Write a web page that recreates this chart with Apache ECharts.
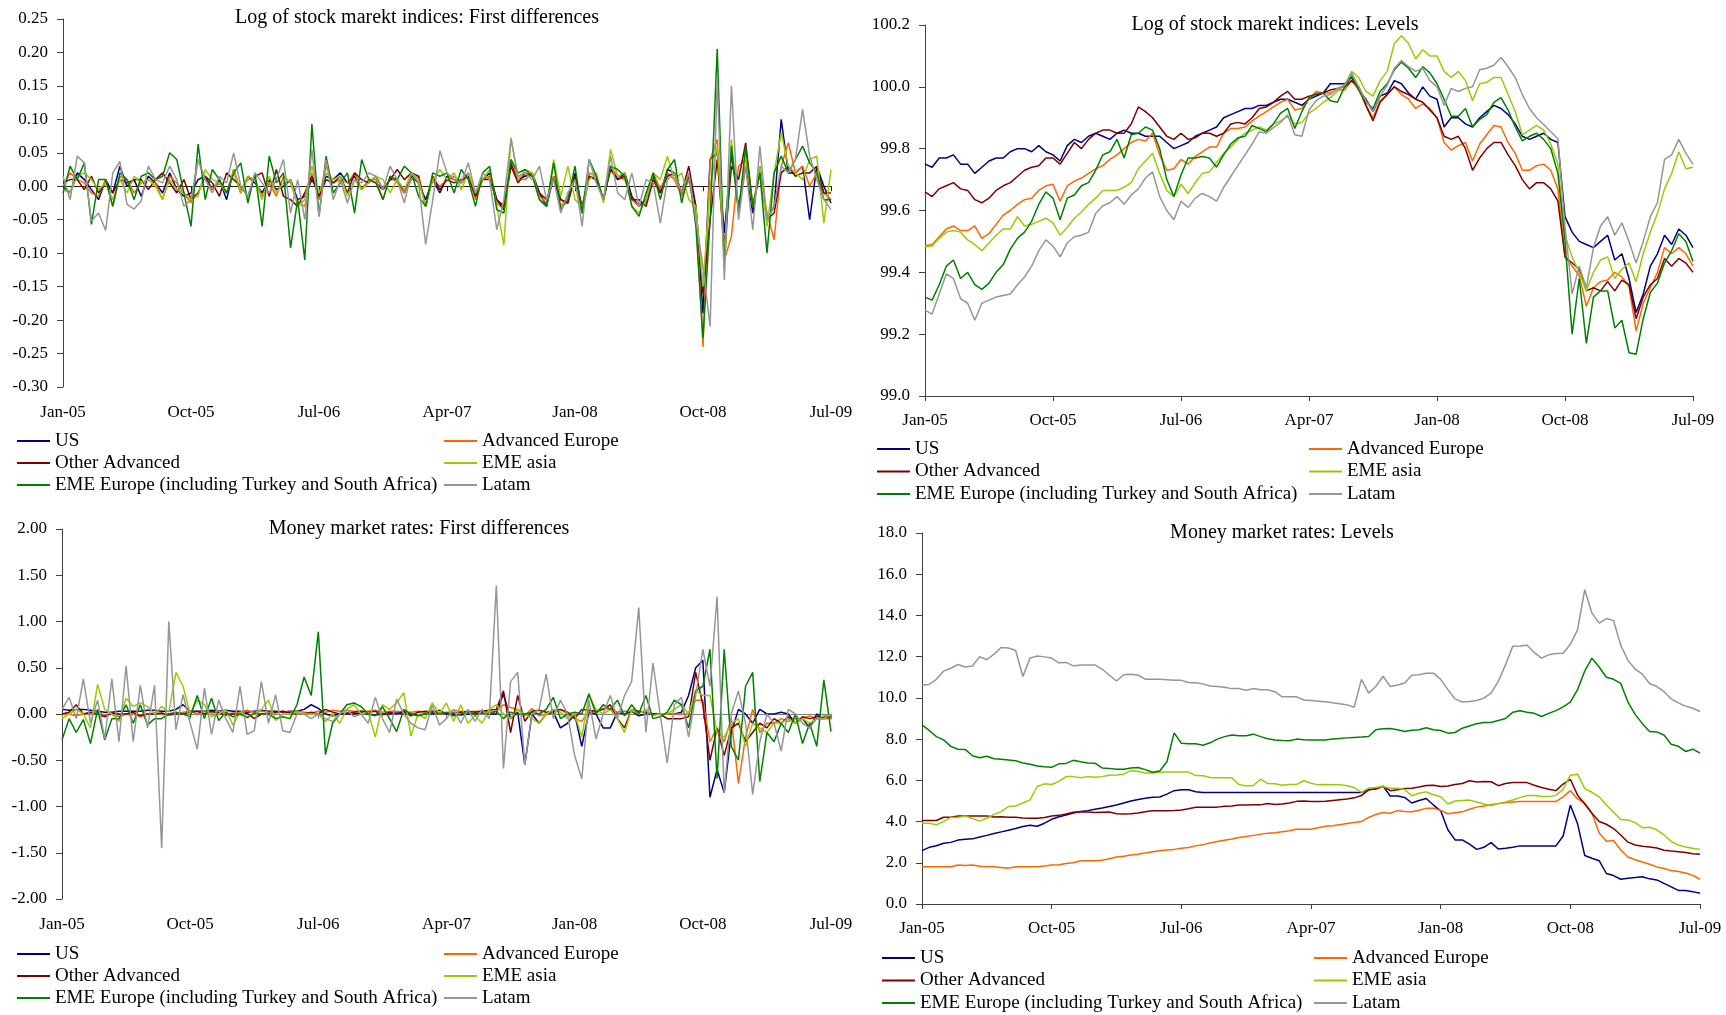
<!DOCTYPE html>
<html>
<head>
<meta charset="utf-8">
<title>Stock market indices and money market rates</title>
<script src="https://cdn.jsdelivr.net/npm/echarts@6/dist/echarts.min.js"></script>
<style>
  html, body { margin: 0; padding: 0; background: #fff; }
  #chart { width: 1726px; height: 1015px; }
</style>
</head>
<body>
<div id="chart"></div>
<script>
// one sample every half month, Jan-05 .. Jul-09 (109 points)
const STEP = 0.5;
const dateTickLabels = ['Jan-05', 'Oct-05', 'Jul-06', 'Apr-07', 'Jan-08', 'Oct-08', 'Jul-09'];
const seriesNames = ['US', 'Advanced Europe', 'Other Advanced', 'EME asia',
  'EME Europe (including Turkey and South Africa)', 'Latam'];
const seriesColors = ['#000080', '#FF6600', '#800000', '#99CC00', '#008000', '#969696'];

// ---- Log of stock market indices: first differences
const stockDiffUS = [
  0.00, -0.01, 0.02, 0.01, -0.005, -0.02, 0.01, -0.01, 0.03, 0.00, 0.01, -0.015, 0.015, 0.005, -0.01, 0.02, -0.005, -0.015,
  -0.01, 0.01, 0.015, -0.005, 0.01, -0.02, 0.025, -0.01, 0.015, 0.005, -0.01, 0.01, -0.005, 0.00, 0.01, -0.02, -0.015, 0.01,
  -0.01, 0.015, 0.01, 0.02, 0.005, 0.015, -0.005, 0.01, 0.005, -0.005, 0.01, 0.01, -0.01, 0.015, 0.005, -0.02, 0.01, -0.01,
  0.015, 0.01, 0.005, 0.02, -0.015, 0.01, 0.02, -0.02, -0.03, 0.035, 0.01, 0.015, 0.02, -0.01, -0.03, 0.015, -0.02, -0.025,
  0.02, -0.04, 0.015, 0.01, -0.02, 0.03, 0.01, 0.02, -0.015, -0.03, -0.02, 0.015, -0.01, 0.025, 0.02, -0.01,
  0.015, -0.03, -0.19, 0.04, 0.05, -0.07, 0.05, -0.03, 0.03, -0.04, 0.03, -0.05, -0.03, 0.1, 0.02, 0.02, 0.03, -0.05, 0.03, 0.0, -0.025
];
const stockDiffAdvEurope = [
  0.00, 0.02, 0.01, 0.005, -0.01, -0.015, 0.01, -0.03, 0.015, 0.01, -0.01, 0.005, 0.01, 0.005, -0.02, 0.015, 0.005, -0.01,
  -0.025, 0.04, 0.01, -0.005, 0.005, -0.01, 0.02, -0.005, 0.01, 0.01, -0.015, 0.005, -0.015, 0.015, 0.005, -0.025, -0.03, 0.02,
  -0.02, 0.03, 0.005, 0.01, 0.005, 0.02, -0.005, 0.01, 0.01, -0.02, 0.015, 0.005, -0.01, 0.01, 0.015, -0.03, 0.01, 0.0,
  0.01, 0.015, 0.005, 0.015, -0.02, 0.01, 0.015, -0.025, -0.035, 0.04, 0.01, 0.01, 0.02, -0.015, -0.025, 0.015, -0.03, -0.015,
  0.01, -0.04, 0.02, 0.015, -0.02, 0.03, 0.015, 0.01, -0.02, -0.03, -0.025, 0.02, -0.005, 0.02, 0.01, -0.015,
  0.01, -0.04, -0.24, 0.04, 0.07, -0.11, -0.075, 0.03, 0.04, -0.03, 0.02, -0.04, -0.08, 0.03, 0.065, 0.02, 0.03, 0.0, 0.02, -0.01, -0.02
];
const stockDiffOtherAdv = [
  0.005, 0.01, 0.01, -0.005, 0.015, -0.01, 0.005, -0.01, 0.01, 0.005, 0.01, 0.01, -0.005, 0.01, 0.02, 0.005, -0.01, 0.01,
  -0.02, -0.01, 0.015, 0.005, -0.015, 0.02, 0.01, 0.0, -0.015, 0.015, 0.02, -0.015, 0.025, -0.015, -0.02, -0.03, -0.01, 0.015,
  -0.015, 0.01, 0.005, 0.015, -0.01, 0.02, 0.01, 0.005, 0.015, -0.005, 0.01, 0.025, 0.01, 0.02, 0.015, -0.03, 0.015, -0.005,
  0.01, 0.005, 0.01, 0.015, -0.015, 0.01, 0.01, -0.02, -0.035, 0.03, 0.005, 0.02, 0.015, -0.01, -0.02, 0.01, -0.02, -0.025,
  0.015, -0.03, 0.015, 0.01, -0.02, 0.025, 0.01, 0.015, -0.02, -0.02, -0.03, 0.01, -0.01, 0.015, 0.02, -0.01,
  0.03, -0.03, -0.16, -0.05, 0.04, -0.09, 0.03, 0.01, 0.065, -0.03, 0.02, -0.05, -0.04, 0.02, 0.03, 0.015, 0.02, 0.02, 0.03, -0.01, -0.01
];
const stockDiffEmeAsia = [
  -0.005, -0.01, 0.015, 0.02, 0.01, -0.005, 0.005, -0.02, 0.01, -0.01, 0.015, 0.005, 0.01, 0.0, -0.02, 0.01, -0.005, -0.01,
  -0.02, -0.015, 0.025, 0.01, 0.005, -0.01, 0.025, -0.01, 0.015, 0.01, -0.02, 0.015, -0.01, 0.005, 0.01, -0.03, -0.02, 0.03,
  -0.01, 0.02, 0.01, 0.015, -0.015, 0.01, -0.005, 0.005, 0.015, 0.01, -0.01, 0.01, -0.005, 0.02, 0.01, -0.03, 0.01, 0.025,
  0.01, 0.02, -0.005, 0.02, -0.01, 0.01, 0.025, -0.03, -0.088, 0.073, 0.01, 0.025, 0.02, -0.02, -0.03, 0.04, -0.015, 0.03,
  -0.02, -0.03, 0.01, 0.02, -0.025, 0.055, 0.015, 0.02, -0.03, -0.04, -0.02, 0.02, 0.01, 0.045, 0.01, 0.02,
  -0.02, -0.03, -0.15, 0.0, 0.06, -0.1, 0.07, -0.04, 0.05, -0.03, 0.03, -0.06, 0.02, 0.08, 0.03, 0.02, 0.01, 0.04, 0.045, -0.055, 0.025
];
const stockDiffEmeEurope = [
  -0.01, 0.03, 0.01, 0.035, -0.057, 0.01, 0.01, -0.03, 0.02, 0.01, -0.02, 0.015, 0.02, 0.01, 0.015, 0.05, 0.04, -0.01,
  -0.06, 0.063, -0.02, 0.025, 0.01, -0.01, 0.02, 0.035, -0.025, 0.02, -0.06, 0.045, 0.005, 0.02, -0.092, -0.02, -0.11, 0.093,
  -0.045, 0.045, -0.01, 0.005, 0.02, -0.04, 0.04, 0.01, 0.005, -0.02, 0.015, 0.01, 0.03, 0.02, -0.015, -0.03, 0.02, 0.015,
  0.02, -0.01, 0.025, 0.01, -0.03, 0.02, 0.03, -0.035, -0.04, 0.04, 0.02, 0.025, 0.015, -0.02, -0.03, 0.035, -0.035, -0.02,
  0.03, -0.04, 0.04, 0.015, -0.02, 0.03, 0.025, 0.015, -0.03, -0.045, -0.01, 0.02, -0.02, 0.025, 0.04, -0.025,
  0.02, -0.06, -0.227, -0.05, 0.205, -0.12, 0.06, -0.04, 0.06, -0.03, 0.02, -0.1, 0.02, 0.045, 0.02, 0.04, 0.06, 0.035, 0.02, -0.02, -0.02
];
const stockDiffLatam = [
  0.015, -0.02, 0.045, 0.035, -0.052, -0.04, -0.066, 0.02, 0.037, -0.027, -0.034, -0.022, 0.03, 0.01, 0.005, 0.03, 0.01, -0.03,
  -0.02, 0.04, 0.01, -0.01, 0.015, 0.005, 0.05, 0.0, -0.015, 0.02, 0.005, -0.01, 0.01, 0.04, -0.04, 0.01, -0.05, 0.055,
  -0.045, 0.04, -0.02, 0.01, -0.025, 0.01, 0.005, 0.02, 0.015, -0.005, 0.03, 0.01, -0.025, 0.02, 0.005, -0.087, -0.02, 0.053,
  0.02, 0.01, 0.005, 0.035, -0.01, 0.02, 0.01, -0.065, -0.02, 0.07, 0.015, 0.02, 0.01, 0.03, -0.02, 0.01, -0.04, -0.01,
  0.01, -0.06, 0.04, 0.005, -0.02, 0.045, -0.01, -0.02, 0.02, -0.03, 0.01, 0.005, -0.055, 0.01, 0.02, -0.01,
  0.02, -0.05, -0.12, -0.21, 0.16, -0.14, 0.15, -0.05, 0.03, -0.065, 0.06, -0.05, -0.03, 0.03, 0.02, 0.04, 0.115, 0.045, 0.01, -0.02, -0.035
];

// ---- Log of stock market indices: levels
const stockLevelUS = [
  99.75, 99.74, 99.77, 99.77, 99.78, 99.75, 99.75, 99.72, 99.74, 99.76,
  99.77, 99.77, 99.79, 99.80, 99.80, 99.79, 99.81, 99.79, 99.78, 99.76,
  99.81, 99.83, 99.82, 99.84, 99.85, 99.84, 99.83, 99.85, 99.86, 99.85,
  99.85, 99.84, 99.84, 99.84, 99.82, 99.80, 99.81, 99.82, 99.84, 99.85,
  99.86, 99.87, 99.90, 99.91, 99.92, 99.93, 99.93, 99.94, 99.94, 99.95,
  99.96, 99.96, 99.95, 99.94, 99.96, 99.97, 99.98, 100.01, 100.01, 100.01,
  100.03, 99.99, 99.96, 99.92, 99.97, 99.98, 100.02, 100.01, 99.98, 99.96,
  100.00, 99.97, 99.96, 99.87, 99.90, 99.90, 99.88, 99.87, 99.90, 99.92,
  99.94, 99.93, 99.91, 99.88, 99.84, 99.83, 99.84, 99.85, 99.83, 99.82,
  99.58, 99.53, 99.50, 99.49, 99.48, 99.50, 99.52, 99.44, 99.46, 99.38,
  99.27, 99.33, 99.42, 99.46, 99.52, 99.49, 99.54, 99.52, 99.48
];
const stockLevelAdvEurope = [
  99.486, 99.49, 99.515, 99.54, 99.55, 99.535, 99.535, 99.55, 99.51, 99.525,
  99.555, 99.585, 99.60, 99.62, 99.635, 99.64, 99.665, 99.68, 99.685, 99.63,
  99.68, 99.695, 99.705, 99.72, 99.735, 99.745, 99.765, 99.78, 99.80, 99.82,
  99.83, 99.825, 99.85, 99.78, 99.73, 99.735, 99.765, 99.75, 99.775, 99.79,
  99.805, 99.805, 99.85, 99.865, 99.865, 99.87, 99.89, 99.905, 99.92, 99.935,
  99.95, 99.96, 99.925, 99.93, 99.96, 99.985, 99.98, 99.98, 99.99, 99.99,
  100.02, 99.99, 99.94, 99.90, 99.955, 99.975, 100.0, 99.975, 99.96, 99.93,
  99.945, 99.93, 99.90, 99.82, 99.795, 99.81, 99.82, 99.76, 99.815, 99.845,
  99.875, 99.87, 99.82, 99.785, 99.73, 99.73, 99.745, 99.75, 99.73, 99.67,
  99.45, 99.42, 99.39, 99.29, 99.35, 99.37, 99.375, 99.40, 99.385, 99.355,
  99.21, 99.30, 99.35, 99.40, 99.48, 99.46, 99.48, 99.46, 99.42
];
const stockLevelOtherAdv = [
  99.66, 99.645, 99.67, 99.68, 99.69, 99.67, 99.665, 99.635, 99.625, 99.64,
  99.665, 99.68, 99.69, 99.71, 99.73, 99.74, 99.745, 99.77, 99.77, 99.75,
  99.785, 99.82, 99.80, 99.83, 99.85, 99.86, 99.86, 99.85, 99.85, 99.88,
  99.935, 99.92, 99.90, 99.87, 99.84, 99.83, 99.85, 99.83, 99.835, 99.85,
  99.85, 99.84, 99.85, 99.88, 99.885, 99.88, 99.90, 99.93, 99.935, 99.95,
  99.97, 99.985, 99.96, 99.96, 99.97, 99.975, 99.98, 99.99, 99.995, 100.0,
  100.02, 100.0, 99.94, 99.89, 99.95, 99.975, 100.0, 99.985, 99.975, 99.96,
  99.95, 99.925, 99.90, 99.84, 99.83, 99.84, 99.80, 99.73, 99.77, 99.80,
  99.82, 99.82, 99.78, 99.745, 99.70, 99.67, 99.69, 99.69, 99.67, 99.63,
  99.45, 99.43, 99.41, 99.34, 99.35, 99.34, 99.37, 99.34, 99.375, 99.36,
  99.25, 99.32, 99.36, 99.38, 99.445, 99.42, 99.445, 99.43, 99.40
];
const stockLevelEmeAsia = [
  99.483, 99.485, 99.51, 99.53, 99.535, 99.53, 99.505, 99.49, 99.47, 99.495,
  99.52, 99.54, 99.54, 99.58, 99.55, 99.555, 99.565, 99.575, 99.56, 99.52,
  99.545, 99.575, 99.595, 99.62, 99.64, 99.665, 99.665, 99.665, 99.675, 99.69,
  99.735, 99.76, 99.785, 99.72, 99.665, 99.645, 99.685, 99.655, 99.69, 99.72,
  99.725, 99.755, 99.785, 99.805, 99.83, 99.85, 99.86, 99.87, 99.86, 99.88,
  99.89, 99.905, 99.88, 99.885, 99.915, 99.93, 99.95, 99.965, 99.985, 100.005,
  100.05, 100.03, 99.985, 99.97, 100.02, 100.05, 100.14, 100.165, 100.14, 100.09,
  100.12, 100.10, 100.10, 100.05, 100.03, 100.05, 100.02, 99.955, 100.01, 100.015,
  100.03, 100.03, 99.975, 99.92, 99.845, 99.86, 99.875, 99.86, 99.815, 99.75,
  99.52, 99.45, 99.40, 99.34, 99.40, 99.44, 99.45, 99.38, 99.41, 99.43,
  99.37, 99.46, 99.53, 99.59, 99.67, 99.72, 99.79, 99.735, 99.74
];
const stockLevelEmeEurope = [
  99.32, 99.31, 99.36, 99.42, 99.44, 99.38, 99.40, 99.36, 99.345, 99.365,
  99.40, 99.425, 99.475, 99.51, 99.53, 99.565, 99.62, 99.66, 99.64, 99.57,
  99.64, 99.65, 99.68, 99.69, 99.73, 99.78, 99.79, 99.83, 99.77, 99.845,
  99.85, 99.87, 99.86, 99.80, 99.70, 99.645, 99.715, 99.77, 99.77, 99.775,
  99.77, 99.74, 99.78, 99.815, 99.835, 99.84, 99.875, 99.865, 99.855, 99.88,
  99.915, 99.93, 99.865, 99.92, 99.965, 99.978, 99.98, 99.955, 99.95, 100.0,
  100.035, 99.99, 99.95, 99.93, 99.985, 100.01, 100.055, 100.08, 100.06, 100.03,
  100.065, 100.045, 100.01, 99.96, 99.905, 99.905, 99.93, 99.87, 99.895, 99.91,
  99.95, 99.965, 99.925, 99.87, 99.825, 99.84, 99.85, 99.83, 99.80, 99.72,
  99.50, 99.20, 99.38, 99.17, 99.32, 99.34, 99.34, 99.22, 99.245, 99.14,
  99.135, 99.25, 99.335, 99.365, 99.43, 99.47, 99.525, 99.50, 99.435
];
const stockLevelLatam = [
  99.278, 99.265, 99.33, 99.395, 99.38, 99.315, 99.30, 99.245, 99.30, 99.31,
  99.32, 99.325, 99.33, 99.36, 99.385, 99.42, 99.47, 99.505, 99.485, 99.45,
  99.495, 99.515, 99.52, 99.53, 99.59, 99.615, 99.625, 99.645, 99.62, 99.65,
  99.67, 99.705, 99.725, 99.645, 99.60, 99.57, 99.63, 99.61, 99.64, 99.655,
  99.645, 99.63, 99.675, 99.71, 99.745, 99.78, 99.815, 99.855, 99.85, 99.868,
  99.885, 99.91, 99.845, 99.84, 99.925, 99.955, 99.97, 99.975, 99.995, 100.005,
  100.045, 100.0, 99.955, 99.92, 99.97, 100.005, 100.06, 100.085, 100.065, 100.05,
  100.06, 100.02, 100.0, 99.94, 99.995, 99.985, 99.995, 100.0, 100.055, 100.06,
  100.07, 100.095, 100.065, 100.03, 99.975, 99.93, 99.90, 99.878, 99.855, 99.832,
  99.55, 99.33, 99.42, 99.35, 99.48, 99.55, 99.58, 99.52, 99.56, 99.50,
  99.43, 99.50, 99.58, 99.625, 99.765, 99.78, 99.83, 99.785, 99.75
];

// ---- Money market rates: first differences
const rateDiffUS = [
  0.05, 0.04, 0.05, 0.05, 0.04, 0.03, 0.02, 0.02, 0.03, 0.03, 0.03,
  0.03, 0.04, 0.04, 0.03, 0.03, 0.05, 0.1, 0.03, 0.03, 0.03,
  0.04, 0.03, 0.04, 0.03, 0.03, 0.02, 0.03, 0.04, 0.03, 0.03,
  0.02, 0.03, 0.03, 0.05, 0.1, 0.06, 0.0, -0.02, 0.0, 0.0,
  0.0, 0.01, 0.0, -0.01, 0.0, 0.0, 0.01, 0.0, 0.0, -0.01,
  0.0, 0.0, 0.01, 0.0, 0.0, -0.01, 0.0, 0.0, 0.01, 0.0,
  0.0, 0.22, -0.05, 0.02, -0.55, 0.0, -0.1, 0.0, 0.02, -0.15,
  -0.1, 0.0, -0.35, 0.02, 0.0, -0.15, -0.15, 0.02, 0.0, 0.03,
  -0.02, 0.0, 0.0, 0.0, 0.0, 0.0, 0.02, 0.2, 0.5, 0.58,
  -0.9, -0.6, -0.85, -0.2, 0.05, 0.0, -0.1, 0.05, 0.0, 0.0,
  0.02, 0.0, -0.1, -0.05, -0.15, 0.0, -0.05, -0.02
];
const rateDiffAdvEurope = [
  0.0, 0.0, -0.02, 0.0, 0.01, 0.03, -0.02, 0.01, -0.03, 0.0, 0.0, -0.03, 0.0, 0.01, 0.0, 0.0, 0.0, 0.02, 0.03, 0.0, 0.03,
  0.01, 0.03, 0.0, 0.01, 0.02, 0.04, 0.02, 0.03, 0.02, 0.01, 0.03, 0.02, 0.03, 0.02, 0.01, 0.03, 0.02, 0.04, 0.03, 0.04,
  0.03, 0.03, 0.03, 0.04, 0.02, 0.03, 0.03, 0.02, 0.02, 0.03, 0.02, 0.04, 0.0, 0.01, 0.04, 0.03, 0.02, 0.03, 0.03, 0.02,
  0.03, 0.1, 0.07, 0.05, -0.02, 0.06, -0.02, 0.0, 0.04, 0.05, 0.0, -0.05, -0.08, 0.03, 0.02, 0.06, 0.05, 0.02, 0.03, 0.03,
  0.02, 0.02, 0.0, 0.0, 0.0, 0.0, 0.0, 0.0, 0.15, 0.15, -0.3, -0.15, -0.3, -0.05, -0.75, -0.25, 0.05, -0.2, -0.1, -0.1,
  -0.05, -0.08, -0.05, -0.05, -0.02, -0.05, -0.05, -0.05
];
const rateDiffOtherAdv = [
  0.0, 0.02, 0.1, 0.0, 0.02, 0.0, -0.03, 0.01, 0.0, 0.0, 0.02, -0.02, 0.0, 0.0, 0.01, -0.01, 0.0, 0.0, 0.02, 0.03, 0.0,
  0.03, 0.01, -0.01, 0.0, 0.0, 0.01, -0.05, 0.0, 0.0, 0.02, 0.03, 0.01, 0.0, 0.0, 0.02, 0.0, 0.05, 0.02, 0.0, 0.01,
  0.02, 0.03, 0.02, 0.03, -0.01, 0.02, 0.0, 0.03, -0.02, 0.02, 0.03, 0.02, 0.04, 0.0, 0.01, 0.02, 0.03, 0.02, 0.03, 0.04,
  0.05, 0.25, -0.2, 0.2, -0.08, 0.03, 0.04, 0.02, 0.03, 0.05, 0.02, -0.05, 0.05, 0.04, 0.03, 0.05, 0.1, -0.05, -0.15, 0.05,
  0.03, 0.02, 0.0, 0.0, -0.05, -0.05, -0.05, -0.03, 0.45, 0.1, -0.5, -0.15, -0.45, -0.15, -0.1, -0.3, -0.2, -0.1, -0.15, -0.05,
  -0.1, -0.03, -0.1, -0.03, -0.05, -0.03, -0.03, -0.03
];
const rateDiffEmeAsia = [
  -0.05, 0.0, 0.05, 0.0, -0.15, 0.32, 0.05, 0.0, -0.08, 0.17,
  0.08, 0.12, 0.08, 0.0, 0.08, 0.02, 0.45, 0.3, 0.0, 0.15,
  0.1, -0.03, 0.0, 0.05, -0.12, 0.02, -0.03, 0.0, 0.05, 0.15,
  -0.07, 0.0, 0.0, 0.02, 0.0, 0.0, 0.0, -0.08, 0.0, -0.1,
  0.05, 0.1, 0.0, 0.02, -0.25, 0.1, 0.05, 0.12, 0.23, -0.24,
  0.0, -0.05, 0.12, 0.0, 0.12, -0.08, 0.1, -0.1, -0.02, -0.1,
  0.05, 0.1, 0.0, -0.05, 0.05, 0.0, -0.05, -0.1, 0.0, 0.05,
  0.02, -0.05, 0.0, -0.25, 0.2, 0.05, 0.0, 0.05, -0.05, -0.2,
  0.05, 0.0, 0.05, -0.02, 0.0, 0.0, 0.05, 0.1, 0.0, 0.25,
  0.2, 0.2, -0.2, -0.25, -0.1, -0.05, -0.35, -0.1, -0.15, -0.2,
  -0.1, -0.1, -0.05, -0.1, -0.05, -0.1, -0.05, -0.02, -0.02
];
const rateDiffEmeEurope = [
  -0.28, -0.05, -0.2, -0.06, -0.32, 0.05, -0.28, -0.05, -0.05, 0.1,
  -0.1, 0.1, -0.12, -0.05, -0.05, 0.0, 0.02, 0.0, -0.03, 0.2,
  -0.05, 0.17, -0.07, 0.02, -0.03, 0.0, -0.04, 0.01, 0.0, 0.0,
  -0.05, -0.03, -0.05, 0.1, 0.4, 0.2, 0.89, -0.44, -0.1, 0.0,
  0.1, 0.12, 0.08, 0.0, -0.02, 0.08, -0.05, -0.19, 0.05, 0.0,
  -0.02, 0.0, 0.03, 0.0, 0.02, -0.02, 0.0, 0.02, -0.01, 0.01,
  0.0, 0.03, -0.05, 0.02, 0.0, 0.0, 0.02, 0.0, 0.05, 0.18,
  -0.05, 0.0, 0.02, 0.0, 0.22, 0.0, 0.1, 0.05, 0.15, -0.02,
  0.1, 0.0, 0.2, -0.05, -0.03, 0.02, 0.15, 0.1, -0.15, 0.25,
  0.3, 0.7, -0.7, 0.7, -0.35, -0.5, 0.3, 0.45, -0.73, -0.2,
  -0.3, -0.1, -0.2, 0.0, -0.32, -0.1, -0.35, 0.37, -0.19
];
const rateDiffLatam = [
  0.05, 0.18, -0.05, 0.38, -0.1, 0.15, -0.27, 0.38, -0.3, 0.52,
  -0.3, 0.31, -0.15, 0.31, -1.45, 1.0, -0.17, 0.21, -0.1, -0.38,
  0.28, -0.22, 0.15, -0.05, -0.2, 0.3, -0.22, -0.18, 0.35, -0.1,
  0.21, -0.18, -0.2, 0.0, 0.0, -0.05, 0.0, -0.05, -0.08, 0.0,
  0.05, -0.03, 0.0, -0.1, 0.18, -0.05, -0.2, 0.16, 0.0, -0.1,
  -0.15, -0.17, 0.1, -0.12, -0.05, 0.05, -0.1, 0.05, -0.08, 0.05,
  -0.05, 1.39, -0.59, 0.35, 0.45, -0.55, 0.0, 0.05, 0.43, -0.05,
  0.15, 0.0, -0.45, -0.7, 0.15, -0.27, 0.0, 0.2, -0.05, 0.2,
  0.35, 1.15, -0.2, 0.55, 0.0, -0.53, 0.1, 0.18, -0.25, 0.2,
  0.7, 0.3, 1.27, -0.85, 0.0, 0.25, -0.1, -0.87, -0.3, 0.0,
  -0.1, -0.4, 0.05, 0.0, -0.1, -0.15, -0.05, -0.05, 0.0
];

// ---- Money market rates: levels
const rateLevelUS = [
  2.59, 2.75, 2.83, 2.95, 2.99, 3.10, 3.14, 3.16, 3.25, 3.33,
  3.42, 3.50, 3.58, 3.66, 3.76, 3.82, 3.77, 3.92, 4.11, 4.23,
  4.32, 4.41, 4.49, 4.53, 4.60, 4.66, 4.73, 4.80, 4.90, 5.00,
  5.07, 5.13, 5.18, 5.19, 5.33, 5.50, 5.54, 5.54, 5.45, 5.41,
  5.41, 5.41, 5.41, 5.41, 5.41, 5.41, 5.41, 5.41, 5.41, 5.41,
  5.41, 5.41, 5.41, 5.41, 5.41, 5.41, 5.41, 5.41, 5.41, 5.41,
  5.41, 5.41, 5.54, 5.60, 5.72, 5.24, 5.24, 5.17, 4.90, 5.02,
  5.12, 4.80, 4.52, 3.60, 3.11, 3.11, 2.90, 2.65, 2.75, 2.98,
  2.67, 2.70, 2.75, 2.82, 2.82, 2.82, 2.82, 2.82, 2.82, 3.30,
  4.80, 3.90, 2.35, 2.22, 2.10, 1.48, 1.38, 1.20, 1.25, 1.28,
  1.32, 1.22, 1.17, 1.00, 0.83, 0.66, 0.65, 0.60, 0.52
];
const rateLevelAdvEurope = [
  1.81, 1.81, 1.81, 1.81, 1.81, 1.89, 1.87, 1.89, 1.83, 1.81,
  1.81, 1.77, 1.74, 1.81, 1.81, 1.81, 1.81, 1.84, 1.89, 1.90,
  1.97, 2.00, 2.10, 2.10, 2.10, 2.12, 2.20, 2.28, 2.32, 2.38,
  2.41, 2.48, 2.53, 2.58, 2.62, 2.65, 2.70, 2.74, 2.82, 2.88,
  2.96, 3.03, 3.09, 3.15, 3.23, 3.27, 3.33, 3.39, 3.43, 3.46,
  3.51, 3.55, 3.63, 3.63, 3.63, 3.70, 3.77, 3.80, 3.85, 3.90,
  3.95, 4.00, 4.20, 4.34, 4.44, 4.40, 4.53, 4.49, 4.48, 4.55,
  4.64, 4.65, 4.54, 4.38, 4.43, 4.47, 4.60, 4.70, 4.75, 4.81,
  4.87, 4.91, 4.95, 4.97, 4.97, 4.97, 4.97, 4.97, 4.97, 5.20,
  5.50, 5.10, 4.90, 4.40, 3.45, 3.05, 3.08, 2.62, 2.28, 2.15,
  2.04, 1.93, 1.80, 1.72, 1.62, 1.58, 1.50, 1.39, 1.20
];
const rateLevelOtherAdv = [
  4.05, 4.05, 4.05, 4.21, 4.21, 4.27, 4.27, 4.27, 4.27, 4.27,
  4.22, 4.23, 4.21, 4.21, 4.17, 4.16, 4.16, 4.20, 4.27, 4.30,
  4.37, 4.45, 4.48, 4.46, 4.44, 4.45, 4.46, 4.38, 4.37, 4.38,
  4.42, 4.48, 4.52, 4.53, 4.53, 4.54, 4.56, 4.62, 4.69, 4.69,
  4.69, 4.70, 4.74, 4.76, 4.80, 4.80, 4.81, 4.81, 4.88, 4.83,
  4.85, 4.90, 4.98, 5.00, 4.97, 4.97, 4.98, 5.02, 5.06, 5.10,
  5.15, 5.26, 5.54, 5.58, 5.70, 5.50, 5.54, 5.60, 5.62, 5.68,
  5.75, 5.76, 5.70, 5.72, 5.80, 5.85, 5.98, 5.92, 5.94, 5.93,
  5.74, 5.85, 5.89, 5.89, 5.89, 5.76, 5.65, 5.57, 5.50, 5.82,
  6.05, 5.28, 4.85, 4.40, 4.00, 3.87, 3.66, 3.35, 3.00, 2.86,
  2.80, 2.77, 2.72, 2.61, 2.57, 2.54, 2.50, 2.44, 2.41
];
const rateLevelEmeAsia = [
  3.92, 3.92, 3.84, 4.00, 4.20, 4.20, 4.27, 4.15, 4.02, 4.16,
  4.35, 4.48, 4.73, 4.75, 4.90, 5.05, 5.70, 5.83, 5.80, 5.95,
  6.18, 6.18, 6.13, 6.18, 6.15, 6.18, 6.25, 6.26, 6.30, 6.47,
  6.43, 6.35, 6.35, 6.39, 6.40, 6.41, 6.41, 6.40, 6.23, 6.22,
  6.14, 6.13, 6.13, 6.12, 5.80, 5.72, 5.75, 6.05, 5.85, 5.83,
  5.76, 5.80, 5.80, 5.98, 5.86, 5.78, 5.80, 5.79, 5.78, 5.74,
  5.65, 5.42, 5.62, 5.65, 5.70, 5.62, 5.62, 5.55, 5.25, 5.37,
  5.44, 5.30, 5.20, 4.85, 5.00, 5.02, 5.04, 4.95, 4.85, 4.77,
  4.88, 4.95, 5.05, 5.16, 5.26, 5.26, 5.22, 5.21, 5.27, 5.56,
  6.25, 6.30, 5.60, 5.42, 5.20, 4.80, 4.45, 4.10, 4.08, 3.95,
  3.70, 3.72, 3.60, 3.35, 3.03, 2.86, 2.77, 2.70, 2.65
];
const rateLevelEmeEurope = [
  8.69, 8.42, 8.12, 7.96, 7.65, 7.51, 7.50, 7.19, 7.10, 7.17,
  7.05, 7.02, 6.99, 6.95, 6.84, 6.78, 6.70, 6.66, 6.63, 6.80,
  6.82, 6.97, 6.90, 6.84, 6.83, 6.60, 6.58, 6.54, 6.54, 6.60,
  6.62, 6.52, 6.39, 6.45, 6.90, 8.30, 7.80, 7.77, 7.77, 7.70,
  7.82, 8.00, 8.12, 8.20, 8.16, 8.16, 8.24, 8.12, 8.02, 7.96,
  7.93, 7.92, 8.00, 7.97, 7.96, 7.96, 7.96, 8.00, 8.03, 8.06,
  8.08, 8.10, 8.13, 8.45, 8.50, 8.51, 8.45, 8.37, 8.43, 8.45,
  8.55, 8.45, 8.42, 8.29, 8.32, 8.53, 8.64, 8.75, 8.81, 8.81,
  8.90, 9.00, 9.30, 9.38, 9.30, 9.25, 9.10, 9.25, 9.38, 9.56,
  9.80, 10.40, 11.30, 11.93, 11.50, 11.00, 10.90, 10.70, 9.80, 9.20,
  8.75, 8.37, 8.35, 8.20, 7.75, 7.65, 7.40, 7.51, 7.32
];
const rateLevelLatam = [
  10.63, 10.65, 10.90, 11.30, 11.44, 11.62, 11.50, 11.55, 12.00, 11.85,
  12.12, 12.45, 12.42, 12.30, 11.04, 11.93, 12.03, 11.99, 11.93, 11.70,
  11.72, 11.55, 11.60, 11.60, 11.60, 11.40, 11.10, 10.82, 11.12, 11.15,
  11.10, 10.91, 10.91, 10.91, 10.88, 10.85, 10.85, 10.75, 10.74, 10.68,
  10.58, 10.55, 10.52, 10.45, 10.45, 10.37, 10.45, 10.39, 10.39, 10.30,
  10.05, 10.05, 10.05, 9.90, 9.87, 9.84, 9.81, 9.76, 9.72, 9.66,
  9.55, 10.90, 10.23, 10.55, 11.05, 10.55, 10.63, 10.72, 11.10, 11.12,
  11.20, 11.20, 10.90, 10.40, 9.95, 9.80, 9.82, 9.87, 9.99, 10.23,
  10.80, 11.60, 12.50, 12.52, 12.55, 12.20, 11.93, 12.09, 12.15, 12.17,
  12.60, 13.30, 15.25, 14.11, 13.63, 13.85, 13.75, 12.55, 11.82, 11.40,
  11.15, 10.70, 10.55, 10.30, 9.95, 9.76, 9.60, 9.50, 9.34
];

const FONT = 'Liberation Serif';
const AXIS_COLOR = '#404040';

const panels = [
  {
    title: 'Log of stock marekt indices: First differences', titleX: 417, titleY: 18,
    grid: { left: 63, top: 19, width: 768, height: 368 },
    yMin: -0.3, yMax: 0.25, yStep: 0.05, digits: 2, zeroLine: '#202020', labelMargin: 17.5,
    legend: { top: 430, cols: [17, 444], gap: 0 },
    data: [stockDiffUS, stockDiffAdvEurope, stockDiffOtherAdv, stockDiffEmeAsia, stockDiffEmeEurope, stockDiffLatam]
  },
  {
    title: 'Log of stock marekt indices: Levels', titleX: 1275, titleY: 25,
    grid: { left: 925, top: 25, width: 768, height: 371 },
    yMin: 99.0, yMax: 100.2, yStep: 0.2, digits: 1, zeroLine: null, labelMargin: 16,
    legend: { top: 438, cols: [877, 1309], gap: 0.5 },
    data: [stockLevelUS, stockLevelAdvEurope, stockLevelOtherAdv, stockLevelEmeAsia, stockLevelEmeEurope, stockLevelLatam]
  },
  {
    title: 'Money market rates: First differences', titleX: 419, titleY: 529,
    grid: { left: 62, top: 529, width: 769, height: 370 },
    yMin: -2, yMax: 2, yStep: 0.5, digits: 2, zeroLine: '#808080', labelMargin: 17.5,
    legend: { top: 943, cols: [17, 444], gap: 0 },
    data: [rateDiffUS, rateDiffAdvEurope, rateDiffOtherAdv, rateDiffEmeAsia, rateDiffEmeEurope, rateDiffLatam]
  },
  {
    title: 'Money market rates: Levels', titleX: 1282, titleY: 533,
    grid: { left: 922, top: 533, width: 778, height: 371 },
    yMin: 0, yMax: 18, yStep: 2, digits: 1, zeroLine: null, labelMargin: 16.5,
    legend: { top: 947, cols: [882, 1314], gap: 0.5 },
    data: [rateLevelUS, rateLevelAdvEurope, rateLevelOtherAdv, rateLevelEmeAsia, rateLevelEmeEurope, rateLevelLatam]
  }
];

const labelStyle = { color: '#000', fontFamily: FONT, fontSize: 17 };

const grids = [], xAxes = [], yAxes = [], series = [], legends = [], graphics = [];

panels.forEach((p, k) => {
  grids.push(Object.assign({ containLabel: false, outerBoundsMode: 'none' }, p.grid));

  // date axis, labels at bottom
  const hasZero = !!p.zeroLine;
  xAxes.push({
    type: 'value', gridIndex: k, position: 'bottom', min: 0, max: 54, interval: 9,
    axisLine: { show: !hasZero, onZero: false, lineStyle: { color: AXIS_COLOR, width: 1 } },
    axisTick: { show: !hasZero, length: 5, inside: false, lineStyle: { color: AXIS_COLOR } },
    axisLabel: Object.assign({ margin: p.labelMargin, formatter: v => dateTickLabels[Math.round(v / 9)] }, labelStyle),
    splitLine: { show: false }
  });
  yAxes.push({
    type: 'value', gridIndex: k, min: p.yMin, max: p.yMax, interval: p.yStep,
    axisLine: { show: true, lineStyle: { color: AXIS_COLOR, width: 1 } },
    axisTick: { show: true, length: 6, lineStyle: { color: AXIS_COLOR } },
    axisLabel: Object.assign({ margin: 15, formatter: v => v.toFixed(p.digits) }, labelStyle),
    splitLine: { show: false }
  });

  // difference panels: a second x axis sits on zero and carries the line + ticks
  if (hasZero) {
    xAxes.push({
      type: 'value', gridIndex: k, position: 'bottom', min: 0, max: 54, interval: 9,
      axisLine: { show: true, onZero: true, lineStyle: { color: p.zeroLine, width: 1 } },
      axisTick: { show: true, length: 5, inside: false, lineStyle: { color: p.zeroLine } },
      axisLabel: { show: false },
      splitLine: { show: false }
    });
  }
  const xIndex = xAxes.length - (hasZero ? 2 : 1);

  p.data.forEach((arr, j) => {
    series.push({
      name: seriesNames[j],
      type: 'line',
      xAxisIndex: xIndex,
      yAxisIndex: k,
      data: arr.map((v, i) => [i * STEP, v]),
      showSymbol: false,
      symbol: 'none',
      color: seriesColors[j],
      lineStyle: { width: 1.5, color: seriesColors[j] },
      animation: false
    });
  });

  // two legend columns: left column items 0,2,4 ; right column items 1,3,5
  [[0, 2, 4], [1, 3, 5]].forEach((idx, c) => {
    legends.push({
      orient: 'vertical',
      left: p.legend.cols[c],
      top: p.legend.top,
      padding: 0,
      itemGap: p.legend.gap,
      itemWidth: 33,
      itemHeight: 2,
      icon: 'rect',
      selectedMode: false,
      data: idx.map(i => seriesNames[i]),
      textStyle: { color: '#000', fontFamily: FONT, fontSize: 19, lineHeight: 22 }
    });
  });

  graphics.push({
    type: 'text',
    x: p.titleX,
    y: p.titleY,
    style: {
      text: p.title, align: 'center', verticalAlign: 'middle',
      fontFamily: FONT, fontSize: 20, fill: '#000'
    }
  });
});

const chart = echarts.init(document.getElementById('chart'), null, { renderer: 'canvas' });
chart.setOption({
  backgroundColor: '#fff',
  animation: false,
  grid: grids,
  xAxis: xAxes,
  yAxis: yAxes,
  legend: legends,
  graphic: graphics,
  series: series
});
</script>
</body>
</html>
